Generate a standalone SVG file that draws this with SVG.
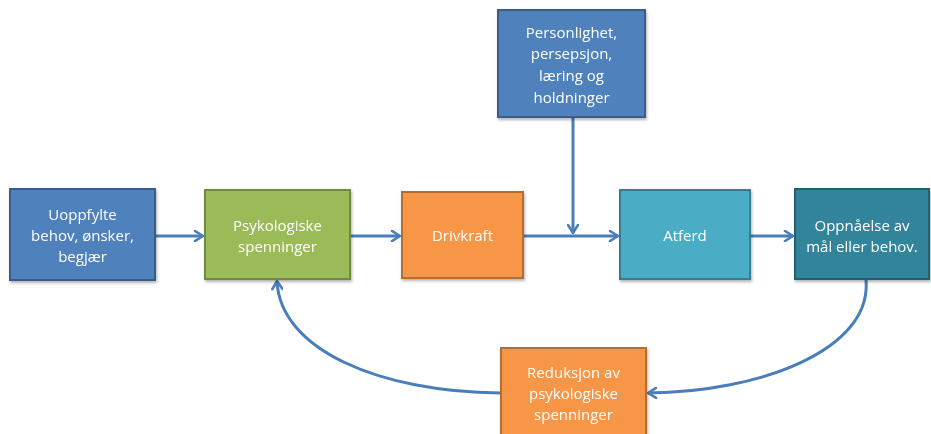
<svg xmlns="http://www.w3.org/2000/svg" width="931" height="434" viewBox="0 0 931 434">
<defs>
<style>
.t{font-family:"Open Sans","Liberation Sans",sans-serif;font-size:15px;fill:#fff;text-anchor:middle}
.c{fill:none;stroke:#4A7EBB;stroke-width:3}
.b{stroke-width:2}
</style>
<marker id="ah" viewBox="0 0 12 12" refX="10" refY="6" markerWidth="12" markerHeight="12" markerUnits="userSpaceOnUse" orient="auto">
<path d="M2,1 L10,6 L2,11" fill="none" stroke="#4A7EBB" stroke-width="2.6" stroke-linecap="round" stroke-linejoin="round"/>
</marker>
<filter id="sh" x="-10%" y="-10%" width="130%" height="130%">
<feDropShadow dx="1" dy="2" stdDeviation="1.5" flood-color="#000" flood-opacity="0.3"/>
</filter>
</defs>
<g id="connectors">
<line class="c" x1="156" y1="236" x2="203" y2="236" marker-end="url(#ah)"/>
<line class="c" x1="351" y1="236" x2="400" y2="236" marker-end="url(#ah)"/>
<line class="c" x1="524" y1="236" x2="618" y2="236" marker-end="url(#ah)"/>
<line class="c" x1="573" y1="118" x2="573" y2="233" marker-end="url(#ah)"/>
<line class="c" x1="751" y1="236" x2="793" y2="236" marker-end="url(#ah)"/>
<path class="c" d="M866,280 C872,350 760,392 648,393" marker-end="url(#ah)"/>
<path class="c" d="M500,393 C380,392 280,350 277,281" marker-end="url(#ah)"/>
</g>
<g id="n1" filter="url(#sh)">
<rect class="b" x="10" y="189" width="145" height="91" fill="#4F81BD" stroke="#385D8A"/>
<text class="t" x="82.5" y="220">Uoppfylte</text>
<text class="t" x="82.5" y="241">behov, ønsker,</text>
<text class="t" x="82.5" y="262">begjær</text>
</g>
<g id="n2" filter="url(#sh)">
<rect class="b" x="205" y="190" width="145" height="89" fill="#9BBB59" stroke="#71893F"/>
<text class="t" x="277.5" y="231">Psykologiske</text>
<text class="t" x="277.5" y="252">spenninger</text>
</g>
<g id="n3" filter="url(#sh)">
<rect class="b" x="402" y="192" width="121" height="86" fill="#F79646" stroke="#B66D31"/>
<text class="t" x="462.5" y="241">Drivkraft</text>
</g>
<g id="n4" filter="url(#sh)">
<rect class="b" x="498" y="10" width="147" height="107" fill="#4F81BD" stroke="#385D8A"/>
<text class="t" x="571.5" y="38">Personlighet,</text>
<text class="t" x="571.5" y="59">persepsjon,</text>
<text class="t" x="571.5" y="81">læring og</text>
<text class="t" x="571.5" y="103">holdninger</text>
</g>
<g id="n5" filter="url(#sh)">
<rect class="b" x="620" y="190" width="130" height="89" fill="#4BACC6" stroke="#357D91"/>
<text class="t" x="685" y="241">Atferd</text>
</g>
<g id="n6" filter="url(#sh)">
<rect class="b" x="795" y="189" width="134" height="90" fill="#31849B" stroke="#235F70"/>
<text class="t" x="862" y="231">Oppnåelse av</text>
<text class="t" x="862" y="252">mål eller behov.</text>
</g>
<g id="n7" filter="url(#sh)">
<rect class="b" x="501" y="348" width="145" height="90" fill="#F79646" stroke="#B66D31"/>
<text class="t" x="573.5" y="378">Reduksjon av</text>
<text class="t" x="573.5" y="399">psykologiske</text>
<text class="t" x="573.5" y="420">spenninger</text>
</g>
</svg>
